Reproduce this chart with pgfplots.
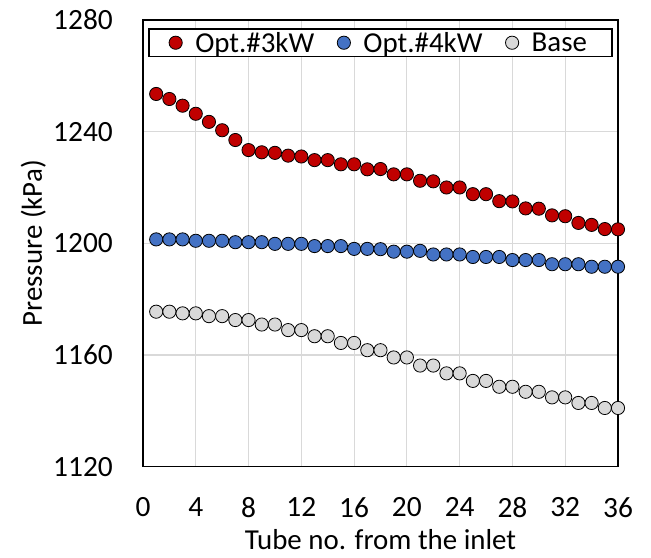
\documentclass[border=0pt]{standalone}
\usepackage{fontspec}
\setmainfont{Carlito}
\usepackage{pgfplots}
\pgfplotsset{compat=1.18}
\definecolor{cred}{HTML}{C00000}
\definecolor{cblue}{HTML}{4472C4}
\definecolor{cgrey}{HTML}{D9D9D9}
\definecolor{cgrid}{HTML}{D9D9D9}
\begin{document}
\begin{tikzpicture}
\path[use as bounding box] (-143bp,-91.4bp) rectangle (508bp,466.6bp);
\begin{axis}[
  at={(0,0)}, anchor=south west,
  scale only axis,
  width=475bp, height=446.6bp,
  xmin=0, xmax=36, ymin=1120, ymax=1280,
  xtick={0,4,...,36}, ytick={1120,1160,1200,1240,1280},
  major tick length=0pt,
  grid=major,
  major grid style={cgrid, line width=1.2pt},
  axis line style={black, line width=1.3pt},
  font=\fontsize{29}{34}\selectfont,
  tick label style={font=\fontsize{29.5}{34}\selectfont},
  /pgf/number format/assume math mode=true,
  /pgf/number format/1000 sep={},
  yticklabel style={anchor=east, inner sep=0pt, xshift=-30bp},
  xticklabel style={anchor=north, inner sep=0pt, yshift=-31bp},
  xlabel={Tube no. from the inlet},
  ylabel={Pressure (kPa)},
  xlabel style={at={(axis description cs:0.5,-0.18495)}, anchor=base, inner sep=0pt},
  ylabel style={at={(axis description cs:-0.21263,0.5)}, anchor=base, inner sep=0pt},
  legend columns=3,
  legend style={at={(0.5,0.9814)}, anchor=north, draw=black, line width=1.3pt, fill=white,
    inner xsep=20bp, inner ysep=2bp, column sep=8bp,
    nodes={inner xsep=5bp, inner ysep=1bp},
    font=\fontsize{29}{34}\selectfont},
  clip=false,
]
\addplot[only marks, mark=*, mark size=6.6bp, draw=black, fill=cred, line width=0.8pt] coordinates {
(1,1253.5)(2,1251.7)(3,1249.3)(4,1246.4)(5,1243.5)(6,1240.5)(7,1237)(8,1233.4)(9,1232.6)(10,1232.4)
(11,1231.4)(12,1231.1)(13,1229.8)(14,1229.8)(15,1228.3)(16,1228.3)(17,1226.5)(18,1226.6)(19,1224.7)(20,1224.7)
(21,1222.4)(22,1222.2)(23,1220)(24,1220)(25,1217.6)(26,1217.6)(27,1215.1)(28,1215)(29,1212.5)(30,1212.4)
(31,1210)(32,1209.7)(33,1207.3)(34,1206.6)(35,1205.1)(36,1205)};
\addlegendentry{Opt.\#3kW\rule{10bp}{0pt}}
\addplot[only marks, mark=*, mark size=6.6bp, draw=black, fill=cblue, line width=0.8pt] coordinates {
(1,1201.4)(2,1201.4)(3,1201.4)(4,1200.9)(5,1200.9)(6,1200.9)(7,1200.4)(8,1200.4)(9,1200.4)(10,1199.8)
(11,1199.8)(12,1199.8)(13,1199)(14,1199)(15,1199)(16,1198)(17,1198)(18,1197.9)(19,1197)(20,1197)
(21,1197.3)(22,1196)(23,1196)(24,1196)(25,1195.1)(26,1195.1)(27,1195.1)(28,1194)(29,1194)(30,1194)
(31,1192.5)(32,1192.5)(33,1192.5)(34,1191.6)(35,1191.6)(36,1191.6)};
\addlegendentry{Opt.\#4kW\rule{10bp}{0pt}}
\addplot[only marks, mark=*, mark size=6.6bp, draw=black, fill=cgrey, line width=0.8pt] coordinates {
(1,1175.5)(2,1175.5)(3,1174.9)(4,1174.9)(5,1173.9)(6,1173.9)(7,1172.5)(8,1172.5)(9,1170.9)(10,1170.9)
(11,1168.9)(12,1168.9)(13,1166.7)(14,1166.7)(15,1164.3)(16,1164.3)(17,1161.7)(18,1161.7)(19,1159.1)(20,1159.1)
(21,1156.2)(22,1156.2)(23,1153.4)(24,1153.4)(25,1150.7)(26,1150.7)(27,1148.6)(28,1148.6)(29,1146.8)(30,1146.8)
(31,1144.8)(32,1144.8)(33,1142.8)(34,1142.8)(35,1141)(36,1141)};
\addlegendentry{Base}
\end{axis}
\end{tikzpicture}
\end{document}
